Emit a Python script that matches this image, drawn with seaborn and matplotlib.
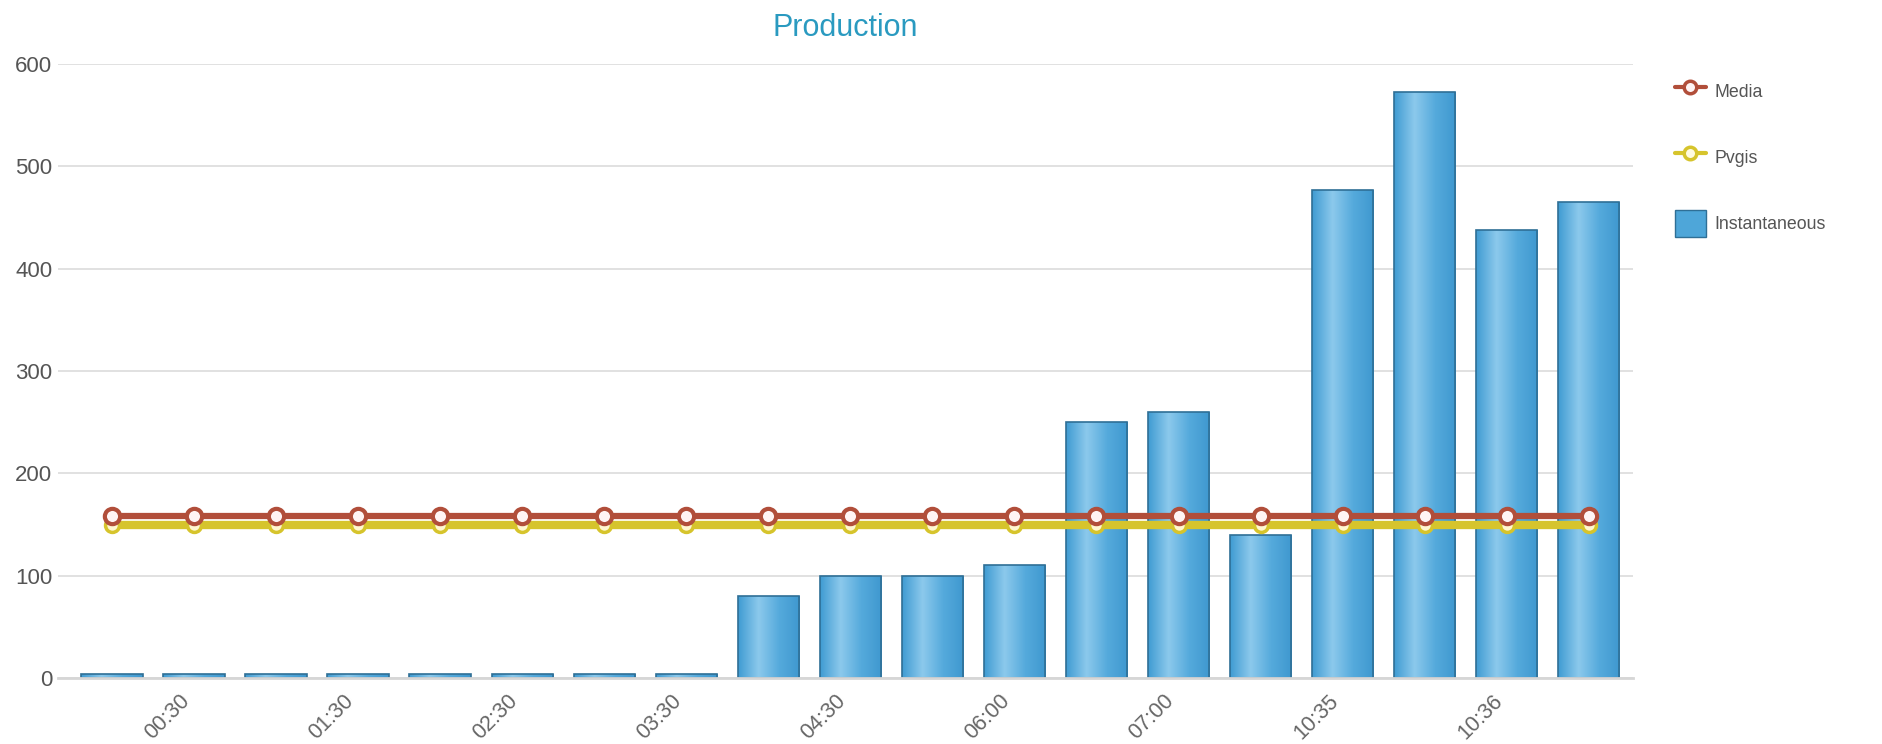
import matplotlib
matplotlib.use("Agg")
import matplotlib.pyplot as plt
import matplotlib.colors as mcolors
import seaborn as sns
import numpy as np
from matplotlib.lines import Line2D
from matplotlib.patches import Patch

# dane
categories = ["00:00", "00:30", "01:00", "01:30", "02:00", "02:30", "03:00", "03:30",
              "04:00", "04:30", "05:30", "06:00", "06:30", "07:00", "07:30",
              "10:35", "10:35 ", "10:36", "10:36 "]
instantaneous = [4, 4, 4, 4, 4, 4, 4, 4, 80, 100, 100, 110, 250, 260, 140, 477, 573, 438, 465]
media = [158] * 19
pvgis = [150] * 19
tick_shown = ["00:30", "01:30", "02:30", "03:30", "04:30", "06:00", "07:00", "10:35", "10:36"]

sns.set_theme(style="white")
plt.rcParams['font.family'] = ['Liberation Sans', 'DejaVu Sans']

fig = plt.figure(figsize=(18.83, 7.44), dpi=100)
ax = fig.add_axes([0.0308, 0.0887, 0.8364, 0.8253])

bar_color = "#4ea6d9"
edge_color = "#2f6f96"
sns.barplot(x=categories, y=instantaneous, order=categories, color=bar_color,
            width=0.75, edgecolor=edge_color, linewidth=1.2, saturation=1, ax=ax, zorder=2)

# gradient na słupkach
grad_cmap = mcolors.LinearSegmentedColormap.from_list(
    "bar", ["#3f9bd2", "#8cc9ec", "#55aadc", "#3f98cf"])
grad = np.linspace(0, 1, 256).reshape(1, -1)
for p in ax.patches:
    x0, y0 = p.get_x(), p.get_y()
    w, h = p.get_width(), p.get_height()
    im = ax.imshow(grad, cmap=grad_cmap, extent=(x0, x0 + w, y0, y0 + h),
                   aspect="auto", zorder=2.1, interpolation="bicubic")
    im.set_clip_path(p)
    p.set_facecolor("none")
    p.set_zorder(2.2)

# linie
sns.pointplot(x=categories, y=pvgis, order=categories, color="#d6c42c", errorbar=None,
              markers="o", linestyles="-", ax=ax, zorder=3,
              markersize=10, markerfacecolor="#fff7d0", markeredgewidth=2.5, linewidth=6)
sns.pointplot(x=categories, y=media, order=categories, color="#b14e3a", errorbar=None,
              markers="o", linestyles="-", ax=ax, zorder=4,
              markersize=11, markerfacecolor="#fff4f4", markeredgewidth=3, linewidth=4.5)

ax.set_xlim(-0.66, 18.54)
ax.set_ylim(0, 600)
ax.set_yticks(range(0, 601, 100))
ax.yaxis.grid(True, color="#dcdcdc", linewidth=1.2, zorder=0)
ax.set_axisbelow(True)
for s in ["top", "right", "left"]:
    ax.spines[s].set_visible(False)
ax.spines["bottom"].set_color("#d6d6d6")
ax.spines["bottom"].set_linewidth(2)

ax.set_xticks(range(1, 19, 2))
ax.set_xticklabels(tick_shown, rotation=45, ha="right", va="top",
                   fontsize=15.5, color="#666666")
ax.tick_params(axis="y", labelsize=16, labelcolor="#555555", pad=4, length=0)
ax.tick_params(axis="x", pad=9, length=0)
ax.set_xlabel("")
ax.set_ylabel("")

ax.set_title("Production", color="#2a9ac0", fontsize=22, pad=20)

handles = [
    Line2D([0], [0], color="#b14e3a", lw=3, marker="o", markersize=9,
           markerfacecolor="#fff4f4", markeredgewidth=2.5),
    Line2D([0], [0], color="#d6c42c", lw=3, marker="o", markersize=9,
           markerfacecolor="#fffbe0", markeredgewidth=2.5),
    Patch(facecolor="#4ea6d9", edgecolor=edge_color),
]
fig.legend(handles, ["Media", "Pvgis", "Instantaneous"], loc="upper left",
           bbox_to_anchor=(0.881, 0.917), frameon=False, fontsize=12.8,
           labelcolor="#555555", labelspacing=2.25, handlelength=1.75,
           handletextpad=0.45, handleheight=1.9)

fig.savefig("out.png", dpi=100, facecolor="white")
